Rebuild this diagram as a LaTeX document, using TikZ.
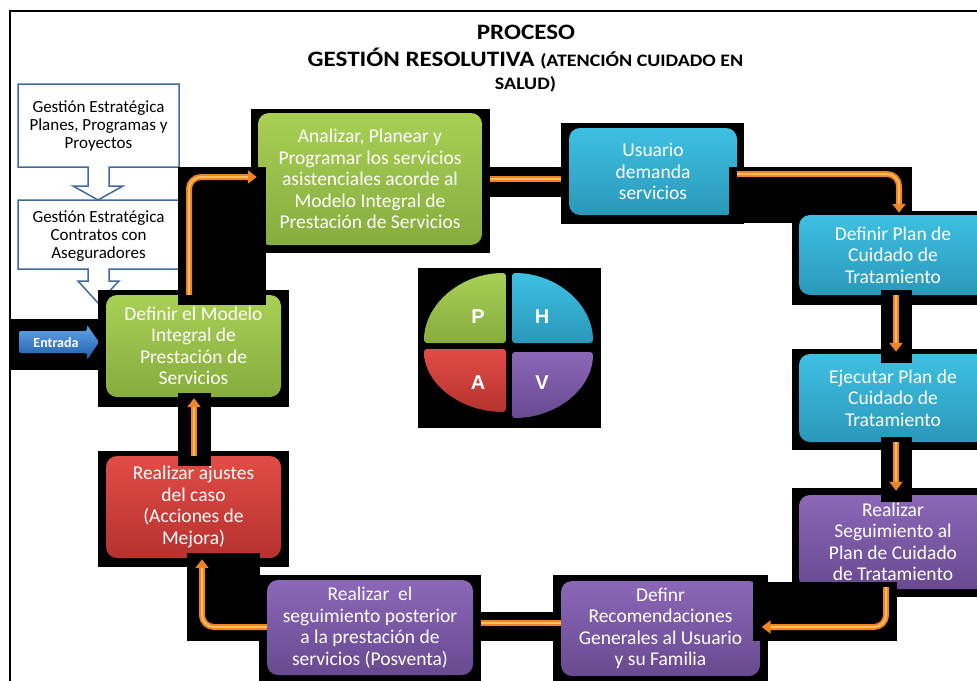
\documentclass[tikz,border=0pt]{standalone}
\usepackage{fontspec}
\setmainfont{Carlito}
\newfontfamily\titlefont[FakeStretch=1.14]{Carlito}
\newfontfamily\lettfont{Liberation Sans}
\usetikzlibrary{arrows.meta,calc}

\definecolor{grnT}{HTML}{A8D055}
\definecolor{grnB}{HTML}{86AC3E}
\definecolor{cyaT}{HTML}{3EC0E2}
\definecolor{cyaB}{HTML}{2A98BA}
\definecolor{redT}{HTML}{E24C46}
\definecolor{redB}{HTML}{B5322E}
\definecolor{purT}{HTML}{8C67B8}
\definecolor{purB}{HTML}{684A90}
\definecolor{orgD}{HTML}{EE8424}
\definecolor{orgL}{HTML}{FFBE5C}
\definecolor{stratBlue}{HTML}{41689F}
\definecolor{entT}{HTML}{62A6EA}
\definecolor{entB}{HTML}{1F5CA8}

\tikzset{
  box/.style={rounded corners=11pt, inner sep=0pt, align=center, text=white,
    font=\fontsize{19.5}{21.5}\selectfont},
  gbox/.style={box, top color=grnT, bottom color=grnB},
  cbox/.style={box, top color=cyaT, bottom color=cyaB},
  rbox/.style={box, top color=redT, bottom color=redB},
  pbox/.style={box, top color=purT, bottom color=purB},
  shadowfill/.style={fill=black},
  conn/.style={draw=orgD, line width=6pt, rounded corners=12pt,
    -{Triangle[length=9pt,width=13pt]},
    postaction={draw=orgL, line width=2pt, -, shorten >=9pt}},
  plainconn/.style={draw=orgD, line width=6pt,
    postaction={draw=orgL, line width=2pt}},
  strat/.style={draw=stratBlue, line width=1.5pt, fill=white, line join=miter},
  strattext/.style={align=center, font=\fontsize{17}{18}\selectfont, text=black},
  quad/.style={rounded corners=3pt},
  letter/.style={text=white, font=\lettfont\bfseries\fontsize{20}{20}\selectfont}
}

\begin{document}
\begin{tikzpicture}[x=1pt, y=-1pt]
\useasboundingbox (0,0) rectangle (977,680);
\clip (0,0) rectangle (977,680);
\fill[white] (0,0) rectangle (977,680);

% outer frame
\draw[line width=2pt] (10,690) -- (10,11) -- (990,11);

% title
\node[anchor=base, font=\titlefont\bfseries\fontsize{22}{24}\selectfont] (t1) at (526,39) {PROCESO};
\node[anchor=base, font=\titlefont\bfseries\fontsize{22}{24}\selectfont] (t2) at (525.5,66)
  {GESTIÓN RESOLUTIVA {\fontsize{17.5}{20}\selectfont (ATENCIÓN CUIDADO EN}};
\node[anchor=base, font=\titlefont\bfseries\fontsize{17.5}{20}\selectfont] (t3) at (525.5,89) {SALUD)};

% strategic inputs with block arrows
\draw[strat] (18,84) -- (179,84) -- (179,167) -- (109,167) -- (109,186) -- (123,186)
  -- (98,200) -- (73,186) -- (88,186) -- (88,167) -- (18,167) -- cycle;
\node[strattext] (s1) at (98.5,126) {Gestión Estratégica\\Planes, Programas y\\Proyectos};
\draw[strat] (18,200) -- (179,200) -- (179,269) -- (109,269) -- (109,281) -- (119,281)
  -- (98,303) -- (78,281) -- (88,281) -- (88,269) -- (18,269) -- cycle;
\node[strattext] (s2) at (98.5,236) {Gestión Estratégica\\Contratos con\\Aseguradores};

% dark backdrops behind the boxes
\fill[shadowfill] (251,109) rectangle (490,253);
\fill[shadowfill] (561,123) rectangle (744,224);
\fill[shadowfill] (792,211) rectangle (990,305);
\fill[shadowfill] (792,349) rectangle (990,450);
\fill[shadowfill] (792,488) rectangle (990,597);
\fill[shadowfill] (553,575) rectangle (768,690);
\fill[shadowfill] (259,575) rectangle (481,690);
\fill[shadowfill] (98,451) rectangle (289,567);
\fill[shadowfill] (98,290) rectangle (289,407);
\fill[shadowfill] (418,268) rectangle (601,428);
% bands lying under the boxes
\fill[shadowfill] (490,167) rectangle (561,197);
\fill[shadowfill] (481,612) rectangle (561,641);
\fill[shadowfill] (11,319) rectangle (98,370);

% cycle boxes
\node[cbox, minimum width=168pt, minimum height=87pt] (U) at (653,171.5)
  {Usuario\\demanda\\servicios};
\fill[shadowfill] (729,167) rectangle (912,223);
\node[gbox, minimum width=224pt, minimum height=132pt] (A) at (370,179)
  {Analizar, Planear y\\Programar los servicios\\asistenciales acorde al\\Modelo Integral de\\Prestación de Servicios};
\node[cbox, minimum width=188pt, minimum height=80pt] (DP) at (893,255)
  {Definir Plan de\\Cuidado de\\Tratamiento};
\node[cbox, minimum width=188pt, minimum height=88pt] (EJ) at (893,398)
  {Ejecutar Plan de\\Cuidado de\\Tratamiento};
\node[pbox, minimum width=188pt, minimum height=94pt] (RS) at (893,542)
  {Realizar\\Seguimiento al\\Plan de Cuidado\\de Tratamiento};
\node[pbox, minimum width=199pt, minimum height=95pt] (DR) at (660.5,628.5)
  {Definr\\Recomendaciones\\Generales al Usuario\\y su Familia};
\node[pbox, minimum width=206pt, minimum height=95pt] (RP) at (370,627.5)
  {Realizar~~el\\seguimiento posterior\\a la prestación de\\servicios (Posventa)};
\node[rbox, minimum width=175pt, minimum height=102pt] (RA) at (193.5,507)
  {Realizar ajustes\\del caso\\(Acciones de\\Mejora)};
\node[gbox, minimum width=175pt, minimum height=102pt] (DM) at (193.5,346)
  {Definir el Modelo\\Integral de\\Prestación de\\Servicios};

% bands lying over the boxes
\fill[shadowfill] (178,167) rectangle (266,305);
\fill[shadowfill] (881,290) rectangle (912,363);
\fill[shadowfill] (881,437) rectangle (912,502);
\fill[shadowfill] (753,582) rectangle (897,641);
\fill[shadowfill] (187,553) rectangle (260,641);
\fill[shadowfill] (178,393) rectangle (211,466);

% connectors
\draw[conn] ($(DM.north)+(-4.5,0)$) |- ($(A.west)+(-1,-2)$);
\draw[plainconn, shorten <=8pt, shorten >=8pt] (A.east) -- (A.east -| U.west);
\draw[conn] ($(U.east)+(0,2.5)$) -| ($(DP.north)+(6,-2)$);
\draw[conn] ($(DP.south)+(3,0)$) -- ($(EJ.north)+(3,-2)$);
\draw[conn] ($(EJ.south)+(3,0)$) -- ($(RS.north)+(3,-4)$);
\draw[conn] ($(RS.south)+(-7,-2)$) |- ($(DR.east)+(1.5,-1.5)$);
\draw[plainconn, shorten >=8pt] ($(DR.west)+(0,-5.5)$) -- ($(RP.east)+(0,-4.5)$);
\draw[conn] ($(RP.west)+(0,-0.5)$) -| ($(RA.south)+(8.5,1)$);
\draw[conn] ($(RA.north)+(0.5,0)$) -- ($(DM.south)+(0.5,1)$);

% entry arrow
\fill[top color=entT, bottom color=entB, rounded corners=2pt]
  (19,331) -- (87,331) -- (87,325) -- (99,342) -- (87,360) -- (87,353) -- (19,353) -- cycle;
\node[text=white, font=\bfseries\fontsize{14}{14}\selectfont] (entrada) at (56,343) {Entrada};

% PHVA cycle
\fill[quad, top color=grnT, bottom color=grnB]
  (506,343) -- (424,343) arc[start angle=180, end angle=270, x radius=82, y radius=70] -- cycle;
\fill[quad, top color=cyaT, bottom color=cyaB]
  (512,343) -- (512,273) arc[start angle=270, end angle=360, x radius=81, y radius=70] -- cycle;
\fill[quad, top color=redT, bottom color=redB]
  (506,349) -- (424,349) arc[start angle=180, end angle=90, x radius=82, y radius=63] -- cycle;
\fill[quad, top color=purT, bottom color=purB]
  (512,352) -- (593,352) arc[start angle=0, end angle=90, x radius=81, y radius=66] -- cycle;
\node[letter] (P) at (478,317) {P};
\node[letter] (H) at (542,317) {H};
\node[letter] (Aq) at (478,383) {A};
\node[letter] (V) at (542,383) {V};
\end{tikzpicture}
\end{document}
